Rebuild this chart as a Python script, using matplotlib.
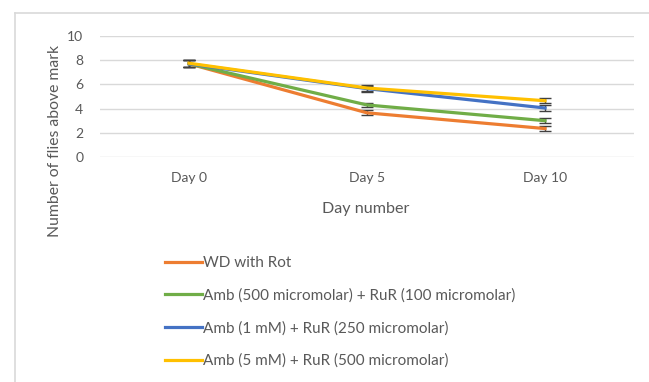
import matplotlib
matplotlib.use("Agg")
import matplotlib.pyplot as plt
from matplotlib.lines import Line2D

plt.rcParams['font.family'] = ['Lato', 'DejaVu Sans']

days = ["Day 0", "Day 5", "Day 10"]
series_names = [
    "WD with Rot",
    "Amb (500 micromolar) + RuR (100 micromolar)",
    "Amb (1 mM) + RuR (250 micromolar)",
    "Amb (5 mM) + RuR (500 micromolar)",
]
wd_rot = [7.7, 3.65, 2.35]
amb_500 = [7.7, 4.3, 3.0]
amb_1mm = [7.7, 5.65, 4.05]
amb_5mm = [7.75, 5.7, 4.65]
wd_rot_err = [0.3, 0.2, 0.2]
amb_500_err = [0.3, 0.2, 0.2]
amb_1mm_err = [0.3, 0.25, 0.25]
amb_5mm_err = [0.3, 0.25, 0.2]
y_ticks = [0, 2, 4, 6, 8, 10]

colors = ["#ED7D31", "#70AD47", "#4472C4", "#FFC000"]
text_col = "#595959"

fig = plt.figure(figsize=(6.49, 3.82), dpi=100)
ax = fig.add_axes([100/649, 1-157/382, 534/649, 121/382])

values = [wd_rot, amb_500, amb_1mm, amb_5mm]
errors = [wd_rot_err, amb_500_err, amb_1mm_err, amb_5mm_err]
x = list(range(len(days)))
handles = []
for vals, errs, c, name in zip(values, errors, colors, series_names):
    ax.errorbar(x, vals, yerr=errs, color=c, lw=2.3, ecolor="#404040",
                elinewidth=1.0, capsize=4, capthick=1.0, zorder=3)
    handles.append(Line2D([], [], color=c, lw=2.3, label=name))

ax.set_xlim(-0.5, 2.5)
ax.set_ylim(0, 10)
ax.set_yticks(y_ticks)
ax.set_xticks(x)
ax.set_xticklabels(days)
ax.grid(axis='y', color="#d9d9d9", lw=1.0)
ax.set_axisbelow(True)
for s in ax.spines.values():
    s.set_visible(False)
ax.tick_params(length=0, colors=text_col, labelsize=10)
ax.tick_params(axis='y', pad=12)
ax.tick_params(axis='x', pad=11)

fig.text(366/649, 1-209/382, "Day number", ha='center', va='center',
         fontsize=11.6, color=text_col)
fig.text(55/649, 1-141/382, "Number of flies above mark", ha='center',
         va='center', rotation=90, fontsize=11.3, color=text_col)

leg = fig.legend(handles=handles, loc='upper left',
                 bbox_to_anchor=(159/649, 1-250/382), frameon=False,
                 fontsize=11, labelcolor=text_col, handlelength=2.4,
                 handletextpad=0.1, labelspacing=1.2, borderaxespad=0)

# chart area border
fig.add_artist(Line2D([15/649, 15/649], [0, 1-13/382], color="#d9d9d9", lw=1.2))
fig.add_artist(Line2D([15/649, 1], [1-13/382, 1-13/382], color="#d9d9d9", lw=1.2))

fig.savefig("out.png", dpi=100)
